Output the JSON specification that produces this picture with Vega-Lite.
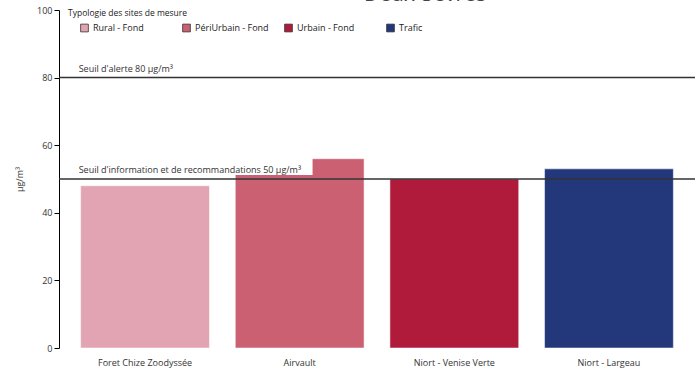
{
  "$schema": "https://vega.github.io/schema/vega-lite/v6.json",
  "width": 636,
  "height": 338,
  "autosize": "none",
  "padding": {"left": 59, "top": 10, "right": 5, "bottom": 21},
  "background": "white",
  "config": {
    "font": "Open Sans",
    "view": {"stroke": null},
    "axis": {"labelFont": "Open Sans", "titleFont": "Open Sans", "labelFontSize": 9, "labelColor": "#333", "titleColor": "#333", "titleFontWeight": "normal"}
  },
  "title": {"text": "Deux-Sèvres", "fontSize": 21, "fontWeight": "normal", "color": "#444", "font": "Open Sans", "anchor": "middle", "frame": "group", "dx": 48, "offset": -20, "baseline": "bottom"},
  "datasets": {
    "bars": [
      {"site": "Foret Chize Zoodyssée", "valeur": 48, "type": "Rural - Fond"},
      {"site": "Airvault", "valeur": 56, "type": "PériUrbain - Fond"},
      {"site": "Niort - Venise Verte", "valeur": 50, "type": "Urbain - Fond"},
      {"site": "Niort - Largeau", "valeur": 53, "type": "Trafic"}
    ],
    "seuils": [
      {"seuil": 80, "label": "Seuil d'alerte 80 µg/m³"},
      {"seuil": 50, "label": "Seuil d'information et de recommandations 50 µg/m³"}
    ]
  },
  "layer": [
    {
      "data": {"name": "bars"},
      "mark": {"type": "bar", "stroke": "white", "strokeOpacity": 0.5, "strokeWidth": 1},
      "encoding": {
        "x": {"field": "site", "type": "nominal", "sort": null,
              "scale": {"paddingInner": 0.167, "paddingOuter": 0.14},
              "axis": {"title": null, "labelAngle": 0, "ticks": false, "domain": false, "labelPadding": 10, "labelFontSize": 9}},
        "y": {"field": "valeur", "type": "quantitative",
              "scale": {"domain": [0, 100]},
              "axis": {"title": "µg/m³", "titleFontSize": 9, "values": [0, 20, 40, 60, 80, 100], "grid": false, "domainColor": "#000", "tickColor": "#000", "tickSize": 5, "titlePadding": 12}},
        "color": {"field": "type", "type": "nominal",
                  "scale": {"domain": ["Rural - Fond", "PériUrbain - Fond", "Urbain - Fond", "Trafic"], "range": ["#e2a4b2", "#cb6073", "#b01b3b", "#22387b"]},
                  "legend": {"title": "Typologie des sites de mesure", "orient": "none", "legendX": 9, "legendY": -1, "direction": "horizontal", "columns": 4, "gridAlign": "all", "symbolType": "square", "symbolSize": 60, "symbolOffset": 12, "symbolStrokeColor": "#333", "symbolStrokeWidth": 0.8, "labelFontSize": 9, "titleFontSize": 8.5, "titleFontWeight": "normal", "titleColor": "#222", "labelColor": "#222", "columnPadding": 3, "padding": 0, "titlePadding": 6}}
      }
    },
    {
      "data": {"name": "seuils"},
      "mark": {"type": "rule", "color": "#333", "strokeWidth": 1.5},
      "encoding": {"y": {"field": "seuil", "type": "quantitative"}}
    },
    {
      "data": {"values": [{"a": 1}]},
      "mark": {"type": "rect", "color": "white"},
      "encoding": {
        "x": {"datum": "Foret Chize Zoodyssée", "bandPosition": 0},
        "x2": {"datum": "Airvault", "bandPosition": 0.6},
        "y": {"datum": 51.2},
        "y2": {"datum": 56.4}
      }
    },
    {
      "data": {"name": "seuils"},
      "mark": {"type": "text", "align": "left", "baseline": "bottom", "dy": -4, "dx": -2, "fontSize": 9, "color": "#333"},
      "encoding": {
        "x": {"datum": "Foret Chize Zoodyssée", "bandPosition": 0},
        "y": {"field": "seuil", "type": "quantitative"},
        "text": {"field": "label"}
      }
    }
  ]
}
